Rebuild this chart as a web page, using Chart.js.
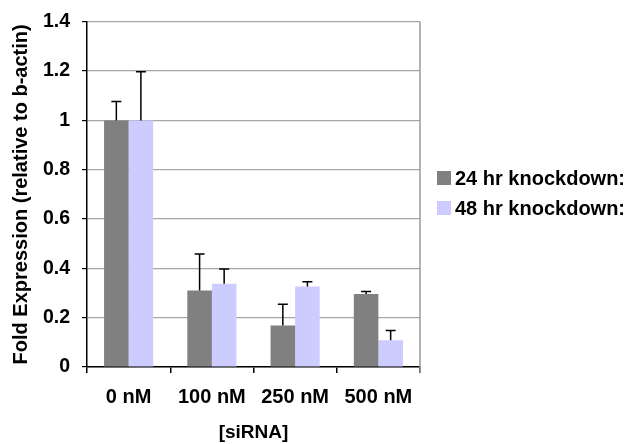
<!DOCTYPE html>
<html>
<head>
<meta charset="utf-8">
<script src="https://cdn.jsdelivr.net/npm/chart.js@4/dist/chart.umd.min.js"></script>
<style>
  html, body { margin: 0; padding: 0; background: #fff; }
  #wrap { width: 630px; height: 444px; position: relative; }
</style>
</head>
<body>
<div id="wrap"><canvas id="foldChart"></canvas></div>
<script>
// siRNA doses
const categories = ["0 nM", "100 nM", "250 nM", "500 nM"];

// fold expression (relative to b-actin)
const knock24 = [1.0, 0.31, 0.168, 0.296];
const knock48 = [1.0, 0.338, 0.326, 0.108];

// upper error bar sizes
const err24 = [0.077, 0.148, 0.086, 0.010];
const err48 = [0.197, 0.059, 0.020, 0.040];

const seriesLabels = ["24 hr knockdown:", "48 hr knockdown:"];
const FONT = "'Liberation Sans', Arial, Helvetica, sans-serif";

// error bars drawn on top of each bar
const errorBars = {
    id: "errorBars",
    afterDatasetsDraw(chart) {
        const ctx = chart.ctx;
        const y = chart.scales.y;
        const errs = [err24, err48];
        ctx.save();
        ctx.strokeStyle = "#000";
        ctx.lineWidth = 1.5;
        chart.data.datasets.forEach((ds, di) => {
            const meta = chart.getDatasetMeta(di);
            meta.data.forEach((bar, i) => {
                const top = y.getPixelForValue(ds.data[i] + errs[di][i]);
                ctx.beginPath();
                ctx.moveTo(bar.x, bar.y);
                ctx.lineTo(bar.x, top);
                ctx.moveTo(bar.x - 5, top);
                ctx.lineTo(bar.x + 5, top);
                ctx.stroke();
            });
        });
        ctx.restore();
    }
};

// gray right border of the plot area + legend on the right
const frameAndLegend = {
    id: "frameAndLegend",
    afterDraw(chart) {
        const ctx = chart.ctx;
        const a = chart.chartArea;
        ctx.save();
        ctx.strokeStyle = "#999";
        ctx.lineWidth = 1.5;
        ctx.beginPath();
        ctx.moveTo(a.right, a.top);
        ctx.lineTo(a.right, a.bottom + 6);
        ctx.stroke();

        ctx.font = "bold 20px " + FONT;
        ctx.textBaseline = "middle";
        chart.data.datasets.forEach((ds, i) => {
            const cy = 178 + i * 30;
            ctx.fillStyle = ds.backgroundColor;
            ctx.fillRect(a.right + 17, cy - 7, 14, 14);
            ctx.fillStyle = "#000";
            ctx.fillText(ds.label, a.right + 35, cy + 1);
        });
        ctx.restore();
    }
};

new Chart(document.getElementById("foldChart"), {
    type: "bar",
    data: {
        labels: categories,
        datasets: [
            {
                label: seriesLabels[0],
                data: knock24,
                backgroundColor: "#808080",
                categoryPercentage: 0.59,
                barPercentage: 1.0
            },
            {
                label: seriesLabels[1],
                data: knock48,
                backgroundColor: "#ccccff",
                categoryPercentage: 0.59,
                barPercentage: 1.0
            }
        ]
    },
    options: {
        responsive: true,
        maintainAspectRatio: false,
        animation: false,
        layout: { padding: { top: 20, right: 210, left: 0, bottom: 0 } },
        plugins: {
            legend: { display: false },
            tooltip: { enabled: false }
        },
        scales: {
            x: {
                grid: {
                    offset: true,
                    drawOnChartArea: false,
                    drawTicks: true,
                    tickLength: 6,
                    tickColor: "#000",
                    lineWidth: 1.5
                },
                border: { color: "#000", width: 1.5 },
                ticks: {
                    color: "#000",
                    padding: 12,
                    font: { family: FONT, size: 20, weight: "bold" }
                },
                title: {
                    display: true,
                    text: "[siRNA]",
                    color: "#000",
                    padding: { top: 0, bottom: 0 },
                    font: { family: FONT, size: 19, weight: "bold" }
                },
                afterFit(scale) { scale.height = 77; }
            },
            y: {
                min: 0,
                max: 1.4,
                ticks: {
                    stepSize: 0.2,
                    color: "#000",
                    padding: 12,
                    font: { family: FONT, size: 19.5, weight: "bold", lineHeight: 1 },
                    callback: (v) => String(Number(v.toFixed(1)))
                },
                grid: {
                    color: "#a6a6a6",
                    lineWidth: 1.2,
                    tickColor: "#000",
                    tickLength: 5
                },
                border: { color: "#000", width: 1.5 },
                title: {
                    display: true,
                    text: "Fold Expression (relative to b-actin)",
                    color: "#000",
                    padding: { top: 9, bottom: 0 },
                    font: { family: FONT, size: 20, weight: "bold" }
                },
                afterFit(scale) { scale.width = 87; }
            }
        }
    },
    plugins: [errorBars, frameAndLegend]
});
</script>
</body>
</html>
